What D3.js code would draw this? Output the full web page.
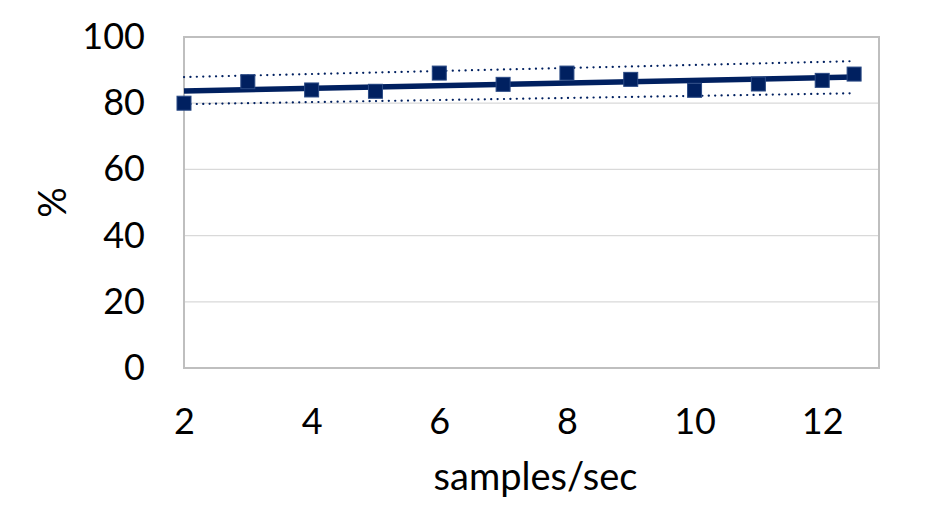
<!DOCTYPE html>
<html><head><meta charset="utf-8">
<script src="https://cdn.jsdelivr.net/npm/d3@7"></script>
<style>html,body{margin:0;padding:0;background:#fff;}svg{display:block;}</style>
</head><body>
<svg id="chart" width="930" height="529"></svg>
<script>
// Data
const xValues = [2, 3, 4, 5, 6, 7, 8, 9, 10, 11, 12, 12.5];
const yValues = [80, 86.5, 84, 83.6, 89.1, 85.7, 89.1, 87.2, 83.9, 85.8, 86.9, 88.8];
const bandX = [2, 12.5];
const upperBand = [87.9, 92.7];
const lowerBand = [79.7, 83.0];
const xTicks = [2, 4, 6, 8, 10, 12];
const yTicks = [0, 20, 40, 60, 80, 100];
const xTitle = "samples/sec";
const yTitle = "%";

const svg = d3.select("#chart");
const L = 184, R = 879, T = 37, B = 368;
const x = d3.scaleLinear().domain([2, 12.89]).range([L, R]);
const y = d3.scaleLinear().domain([0, 100]).range([B, T]);
const navy = "#002060";
const font = "Lato, 'Open Sans', sans-serif";

// gridlines
svg.append("g").selectAll("line").data(yTicks.filter(d => d > 0 && d < 100)).join("line")
  .attr("x1", L).attr("x2", R).attr("y1", d => y(d)).attr("y2", d => y(d))
  .attr("stroke", "#d9d9d9").attr("stroke-width", 1.3);
// plot border
svg.append("rect").attr("x", L).attr("y", T).attr("width", R - L).attr("height", B - T)
  .attr("fill", "none").attr("stroke", "#bfbfbf").attr("stroke-width", 2);

// axes (labels only)
const yAxis = svg.append("g").attr("transform", `translate(${L},0)`)
  .call(d3.axisLeft(y).tickValues(yTicks).tickSize(0).tickPadding(39));
yAxis.select(".domain").remove();
yAxis.selectAll("text").attr("font-family", font).attr("font-size", 36).attr("fill", "#000");

const xAxis = svg.append("g").attr("transform", `translate(0,${B})`)
  .call(d3.axisBottom(x).tickValues(xTicks).tickSize(0).tickPadding(40));
xAxis.select(".domain").remove();
xAxis.selectAll("text").attr("font-family", font).attr("font-size", 36).attr("fill", "#000");

// regression trend line
const mx = d3.mean(xValues), my = d3.mean(yValues);
const sxy = d3.sum(xValues, (v, i) => (v - mx) * (yValues[i] - my));
const sxx = d3.sum(xValues, v => (v - mx) * (v - mx));
const slope = sxy / sxx, icpt = my - slope * mx;
const line = d3.line().x(d => x(d[0])).y(d => y(d[1]));

svg.append("path").datum(bandX.map((v, i) => [v, upperBand[i]])).attr("d", line)
  .attr("fill", "none").attr("stroke", navy).attr("stroke-width", 2.2)
  .attr("stroke-dasharray", "0.1,6.3").attr("stroke-linecap", "round");
svg.append("path").datum(bandX.map((v, i) => [v, lowerBand[i]])).attr("d", line)
  .attr("fill", "none").attr("stroke", navy).attr("stroke-width", 2.2)
  .attr("stroke-dasharray", "0.1,6.3").attr("stroke-linecap", "round");
svg.append("path").datum(bandX.map(v => [v, icpt + slope * v])).attr("d", line)
  .attr("fill", "none").attr("stroke", navy).attr("stroke-width", 5.5);

// markers
const s = 14;
svg.append("g").selectAll("rect").data(xValues.map((v, i) => [v, yValues[i]])).join("rect")
  .attr("x", d => x(d[0]) - s / 2).attr("y", d => y(d[1]) - s / 2)
  .attr("width", s).attr("height", s)
  .attr("fill", navy).attr("stroke", "#2a4a85").attr("stroke-width", 1);

// titles
svg.append("text").attr("x", (L + R) / 2 + 4).attr("y", 490).attr("text-anchor", "middle")
  .attr("font-family", font).attr("font-size", 38).text(xTitle);
svg.append("text").attr("transform", `translate(66,${(T + B) / 2}) rotate(-90)`)
  .attr("text-anchor", "middle").attr("font-family", font).attr("font-size", 38).text(yTitle);
</script>
</body></html>
